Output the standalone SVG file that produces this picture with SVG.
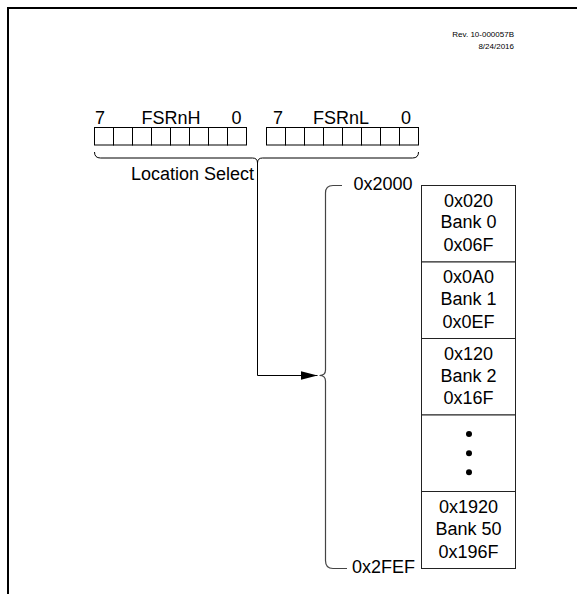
<svg xmlns="http://www.w3.org/2000/svg" width="577" height="594" viewBox="0 0 577 594">
<style>
text{font-family:"Liberation Sans",Arial,sans-serif;fill:#000}
.t{font-size:18px}
.c{text-anchor:middle}
.r{text-anchor:end}
.cell{fill:#fff;stroke:#000;stroke-width:1}
.bank{fill:#fff;stroke:#222;stroke-width:1}
.ln{fill:none;stroke:#000;stroke-width:1}
.br{fill:none;stroke:#444;stroke-width:1.2}
</style>
<defs>
<marker id="ah" markerWidth="17" markerHeight="10" refX="17" refY="5" orient="auto" markerUnits="userSpaceOnUse">
<path d="M0,0.5 L17,5 L0,9.5 Z" fill="#000"/>
</marker>
</defs>
<g id="frame">
<path d="M8,594 L8,8 L577,8" fill="none" stroke="#000" stroke-width="2"/>
</g>
<g id="revision">
<text x="514" y="37" font-size="8" class="r">Rev. 10-000057B</text>
<text x="514" y="49" font-size="8" class="r">8/24/2016</text>
</g>
<g id="fsrnh">
<text class="t c" x="100" y="124">7</text>
<text class="t c" x="171" y="124">FSRnH</text>
<text class="t c" x="236.5" y="124">0</text>
<rect class="cell" x="94.5" y="127.5" width="19" height="17.5"/>
<rect class="cell" x="113.5" y="127.5" width="19" height="17.5"/>
<rect class="cell" x="132.5" y="127.5" width="19" height="17.5"/>
<rect class="cell" x="151.5" y="127.5" width="19" height="17.5"/>
<rect class="cell" x="170.5" y="127.5" width="19" height="17.5"/>
<rect class="cell" x="189.5" y="127.5" width="19" height="17.5"/>
<rect class="cell" x="208.5" y="127.5" width="19" height="17.5"/>
<rect class="cell" x="227.5" y="127.5" width="19" height="17.5"/>
</g>
<g id="fsrnl">
<text class="t c" x="278" y="124">7</text>
<text class="t c" x="341" y="124">FSRnL</text>
<text class="t c" x="406" y="124">0</text>
<rect class="cell" x="266.5" y="127.5" width="19" height="17.5"/>
<rect class="cell" x="285.5" y="127.5" width="19" height="17.5"/>
<rect class="cell" x="304.5" y="127.5" width="19" height="17.5"/>
<rect class="cell" x="323.5" y="127.5" width="19" height="17.5"/>
<rect class="cell" x="342.5" y="127.5" width="19" height="17.5"/>
<rect class="cell" x="361.5" y="127.5" width="19" height="17.5"/>
<rect class="cell" x="380.5" y="127.5" width="19" height="17.5"/>
<rect class="cell" x="399.5" y="127.5" width="19" height="17.5"/>
</g>
<g id="location-select">
<text class="t r" x="254" y="180">Location Select</text>
</g>
<g id="connectors">
<path class="ln" d="M94.5,152 Q94.5,158 100.5,158 L252.5,158 Q257.5,158 257.5,163 Q257.5,158 262.5,158 L412.5,158 Q418.5,158 418.5,152"/>
<path class="ln" d="M257.5,163 L257.5,375.5 L317.5,375.5" marker-end="url(#ah)"/>
<path class="br" d="M342,185.5 L333,185.5 Q325.5,185.5 325.5,193 L325.5,370 Q325.5,375.5 319.5,375.5 Q325.5,375.5 325.5,381 L325.5,560.5 Q325.5,568.5 333,568.5 L347,568.5"/>
</g>
<g id="addr-start">
<text class="t r" x="412.5" y="190">0x2000</text>
</g>
<g id="addr-end">
<text class="t r" x="415" y="573">0x2FEF</text>
</g>
<g id="bank0">
<rect class="bank" x="421.5" y="185.5" width="94" height="76.5"/>
<text class="t c" x="468.5" y="206.5">0x020</text>
<text class="t c" x="468.5" y="228">Bank 0</text>
<text class="t c" x="468.5" y="251">0x06F</text>
</g>
<g id="bank1">
<rect class="bank" x="421.5" y="262" width="94" height="76.5"/>
<text class="t c" x="468.5" y="283">0x0A0</text>
<text class="t c" x="468.5" y="305">Bank 1</text>
<text class="t c" x="468.5" y="328">0x0EF</text>
</g>
<g id="bank2">
<rect class="bank" x="421.5" y="338.5" width="94" height="76.5"/>
<text class="t c" x="468.5" y="359.5">0x120</text>
<text class="t c" x="468.5" y="381.5">Bank 2</text>
<text class="t c" x="468.5" y="404">0x16F</text>
</g>
<g id="bank-ellipsis">
<rect class="bank" x="421.5" y="415" width="94" height="76.5"/>
<circle cx="469" cy="434" r="3"/>
<circle cx="469" cy="453.3" r="3"/>
<circle cx="469" cy="472.3" r="3"/>
</g>
<g id="bank50">
<rect class="bank" x="421.5" y="491.5" width="94" height="77"/>
<text class="t c" x="468.5" y="513">0x1920</text>
<text class="t c" x="468.5" y="535">Bank 50</text>
<text class="t c" x="468.5" y="557.5">0x196F</text>
</g>
</svg>
